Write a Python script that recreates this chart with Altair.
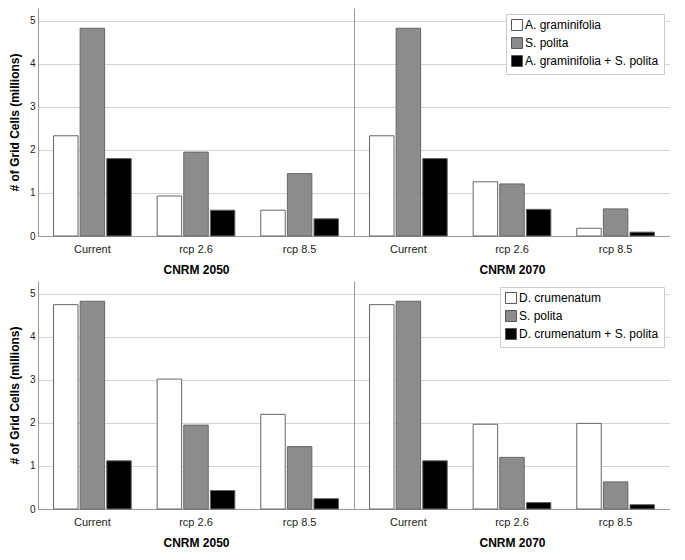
import altair as alt
import pandas as pd

scenarios = ["Current", "rcp 2.6", "rcp 8.5"]
periods = ["CNRM 2050", "CNRM 2070"]
top_series = ["A. graminifolia", "S. polita", "A. graminifolia + S. polita"]
bottom_series = ["D. crumenatum", "S. polita", "D. crumenatum + S. polita"]

# values per scenario (Current, rcp 2.6, rcp 8.5), millions of grid cells
top_2050_first = [2.33, 0.93, 0.60]
top_2050_spolita = [4.83, 1.95, 1.45]
top_2050_both = [1.80, 0.60, 0.40]
top_2070_first = [2.33, 1.26, 0.18]
top_2070_spolita = [4.83, 1.21, 0.63]
top_2070_both = [1.80, 0.62, 0.09]

bot_2050_first = [4.75, 3.02, 2.20]
bot_2050_spolita = [4.83, 1.95, 1.45]
bot_2050_both = [1.12, 0.43, 0.24]
bot_2070_first = [4.75, 1.97, 1.99]
bot_2070_spolita = [4.83, 1.20, 0.63]
bot_2070_both = [1.12, 0.15, 0.10]

y_ticks = [0, 1, 2, 3, 4, 5]
fills = ["#ffffff", "#8c8c8c", "#000000"]

FONT = "Liberation Sans"
W = 316
H = 228


def make_df(series, arrays):
    rows = []
    for name, vals in zip(series, arrays):
        for sc, v in zip(scenarios, vals):
            rows.append({"scenario": sc, "series": name, "value": v})
    return pd.DataFrame(rows)


def panel(df, series, period, left, legend):
    if legend:
        leg = alt.Legend(
            title=None,
            orient="top-right",
            offset=6,
            symbolType="square",
            symbolSize=120,
            symbolStrokeColor="#555555",
            symbolStrokeWidth=1,
            labelFont=FONT,
            labelFontSize=12,
            labelColor="#000000",
            labelLimit=300,
            strokeColor="#cccccc",
            fillColor="#ffffff",
            padding=5,
            rowPadding=2,
            labelOffset=2,
        )
    else:
        leg = None
    if left:
        yaxis = alt.Axis(
            values=y_ticks,
            title="# of Grid Cells (millions)",
            titleFont=FONT,
            titleFontSize=12,
            titleFontWeight="bold",
            titleColor="#000000",
            titlePadding=8,
            labelFont=FONT,
            labelFontSize=10,
            labelColor="#222222",
            labelPadding=3,
            ticks=False,
            domainColor="#999999",
            gridColor="#d4d4d4",
        )
    else:
        yaxis = alt.Axis(
            values=y_ticks,
            title="",
            labels=False,
            ticks=False,
            domainColor="#999999",
            gridColor="#d4d4d4",
        )
    return (
        alt.Chart(df)
        .mark_bar(stroke="#666666", strokeWidth=1)
        .encode(
            x=alt.X(
                "scenario:N",
                sort=scenarios,
                scale=alt.Scale(paddingInner=0.25, paddingOuter=0.15),
                axis=alt.Axis(
                    title=period,
                    labelAngle=0,
                    ticks=False,
                    labelFont=FONT,
                    labelFontSize=11,
                    labelColor="#222222",
                    labelPadding=7,
                    titleFont=FONT,
                    titleFontSize=12,
                    titleFontWeight="bold",
                    titleColor="#000000",
                    titlePadding=10,
                    domainColor="#999999",
                ),
            ),
            xOffset=alt.XOffset("series:N", sort=series, scale=alt.Scale(domain=series, paddingInner=0.08)),
            y=alt.Y(
                "value:Q",
                scale=alt.Scale(domain=[0, 5.3], nice=False),
                axis=yaxis,
            ),
            color=alt.Color(
                "series:N",
                scale=alt.Scale(domain=series, range=fills),
                legend=leg,
            ),
        )
        .properties(width=W, height=H)
    )


tl = panel(make_df(top_series, [top_2050_first, top_2050_spolita, top_2050_both]), top_series, periods[0], True, False)
tr = panel(make_df(top_series, [top_2070_first, top_2070_spolita, top_2070_both]), top_series, periods[1], False, True)
bl = panel(make_df(bottom_series, [bot_2050_first, bot_2050_spolita, bot_2050_both]), bottom_series, periods[0], True, False)
br = panel(make_df(bottom_series, [bot_2070_first, bot_2070_spolita, bot_2070_both]), bottom_series, periods[1], False, True)

top_row = alt.hconcat(tl, tr, spacing=0).resolve_scale(color="independent", y="independent", xOffset="independent")
bot_row = alt.hconcat(bl, br, spacing=0).resolve_scale(color="independent", y="independent", xOffset="independent")

chart = (
    alt.vconcat(top_row, bot_row, spacing=6)
    .resolve_scale(color="independent", y="independent", xOffset="independent")
    .properties(padding={"left": 0, "top": 0, "right": 0, "bottom": 0}, background="#ffffff")
    .configure_view(strokeWidth=0, stroke="transparent")
)

chart.save("out.html", embed_options={"renderer": "svg", "actions": False})
